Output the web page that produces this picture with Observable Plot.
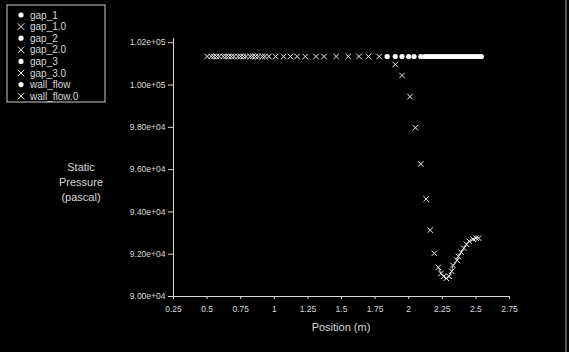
<!DOCTYPE html>
<html>
<head>
<meta charset="utf-8">
<script src="https://cdn.jsdelivr.net/npm/d3@7"></script>
<script src="https://cdn.jsdelivr.net/npm/@observablehq/plot@0.6"></script>
<style>
  html, body { margin: 0; padding: 0; background: #000; }
  #chart { width: 569px; height: 352px; overflow: hidden; }
</style>
</head>
<body>
<div id="chart"></div>
<script>
// ---- data ----
const seriesNames = ["gap_1", "gap_1.0", "gap_2", "gap_2.0", "gap_3", "gap_3.0", "wall_flow", "wall_flow.0"];
const xTicks = [0.25, 0.5, 0.75, 1, 1.25, 1.5, 1.75, 2, 2.25, 2.5, 2.75];
const yTicks = [90000, 92000, 94000, 96000, 98000, 100000, 102000];

// "x" marker series (the .0 runs): position (m) and static pressure (Pa)
const crossX = [0.50,0.53,0.55,0.57,0.59,0.62,0.64,0.66,0.68,0.70,0.73,0.75,0.77,0.79,0.82,0.84,0.86,0.88,0.91,0.93,
  0.96,1.01,1.07,1.12,1.17,1.23,1.31,1.37,1.46,1.55,1.63,1.70,1.78,
  1.90,1.95,2.01,2.05,2.09,2.13,2.16,2.19,2.22,
  2.24,2.26,2.28,2.30,2.32,2.33,2.36,2.37,2.39,2.41,2.43,2.45,2.48,2.50,2.52];
const crossP = [101350,101350,101350,101350,101350,101350,101350,101350,101350,101350,101350,101350,101350,101350,101350,101350,101350,101350,101350,101350,
  101350,101350,101350,101350,101350,101350,101350,101350,101350,101350,101350,101350,101350,
  100970,100450,99450,97980,96270,94610,93140,92040,91380,
  91090,90950,90860,90950,91190,91470,91710,91900,92090,92280,92470,92610,92710,92760,92760];

// filled-dot series (gap_1 / gap_2 / gap_3 / wall_flow overlap)
const dotX = [1.84,1.90,1.95,2.00,2.04,2.09,2.12,2.14,2.16,2.18,2.20,2.22,2.24,2.26,2.28,2.30,2.32,2.34,2.36,2.38,2.40,2.42,2.44,2.46,2.48,2.50,2.52,2.54];
const dotP = [101350,101350,101350,101350,101350,101350,101350,101350,101350,101350,101350,101350,101350,101350,101350,101350,101350,101350,101350,101350,101350,101350,101350,101350,101350,101350,101350,101350];

const crossData = crossX.map((x, i) => ({x, p: crossP[i]}));
const dotData = dotX.map((x, i) => ({x, p: dotP[i]}));
const curveData = crossData.filter(d => d.x >= 2.22);

const expFmt = d => d.toExponential(2).replace(/e([+-])(\d)$/, "e$10$2");
const font = "'Liberation Sans', Arial, sans-serif";
const fg = "#d8d8d8";

const chart = Plot.plot({
  width: 569,
  height: 352,
  marginLeft: 173,
  marginRight: 60,
  marginTop: 38,
  marginBottom: 56,
  style: {background: "#000", color: fg, fontFamily: font, fontSize: "8.5px"},
  x: {domain: [0.25, 2.75]},
  y: {domain: [90000, 102200]},
  marks: [
    Plot.axisX({ticks: xTicks, tickFormat: d3.format("~g"), tickSize: 3, tickPadding: 6, label: null, stroke: fg}),
    Plot.axisY({ticks: yTicks, tickFormat: expFmt, tickSize: 5, tickPadding: 3, label: null, stroke: fg}),
    Plot.ruleX([0.25], {stroke: fg}),
    Plot.ruleY([90000], {stroke: fg}),
    Plot.line(curveData, {x: "x", y: "p", stroke: "#bbb", strokeWidth: 1}),
    Plot.dot(crossData, {x: "x", y: "p", symbol: "times", r: 2.6, stroke: "#eee", strokeWidth: 1}),
    Plot.dot(dotData, {x: "x", y: "p", r: 2.6, fill: "#fff", stroke: "none"})
  ]
});
document.getElementById("chart").appendChild(chart);

// axis titles and in-plot legend
const svg = d3.select(chart);
svg.append("text").attr("x", 341).attr("y", 331).attr("text-anchor", "middle")
  .attr("fill", fg).attr("font-family", font).attr("font-size", 11).text("Position (m)");
const yTitle = ["Static", "Pressure", "(pascal)"];
yTitle.forEach((t, i) => svg.append("text").attr("x", 81).attr("y", 171 + i * 15)
  .attr("text-anchor", "middle").attr("fill", fg).attr("font-family", font).attr("font-size", 11).text(t));

const lg = svg.append("g").attr("text-anchor", "start");
lg.append("rect").attr("x", 7).attr("y", 5).attr("width", 98).attr("height", 97)
  .attr("fill", "#000").attr("stroke", "#ccc").attr("stroke-width", 1);
seriesNames.forEach((name, i) => {
  const cy = 15 + i * 11.6;
  if (name.endsWith(".0")) {
    lg.append("path").attr("d", d3.symbol(d3.symbolTimes, 30)())
      .attr("transform", `translate(21,${cy})`).attr("stroke", "#eee").attr("stroke-width", 1).attr("fill", "none");
  } else {
    lg.append("circle").attr("cx", 21).attr("cy", cy).attr("r", 2.6).attr("fill", "#fff").attr("stroke", "none");
  }
  lg.append("text").attr("x", 30).attr("y", cy + 3.5).attr("text-anchor", "start").attr("fill", fg)
    .attr("font-family", font).attr("font-size", 10).text(name);
});
svg.append("line").attr("x1", 566).attr("x2", 566).attr("y1", 0).attr("y2", 352)
  .attr("stroke", "#aaa").attr("stroke-width", 1);
</script>
</body>
</html>
